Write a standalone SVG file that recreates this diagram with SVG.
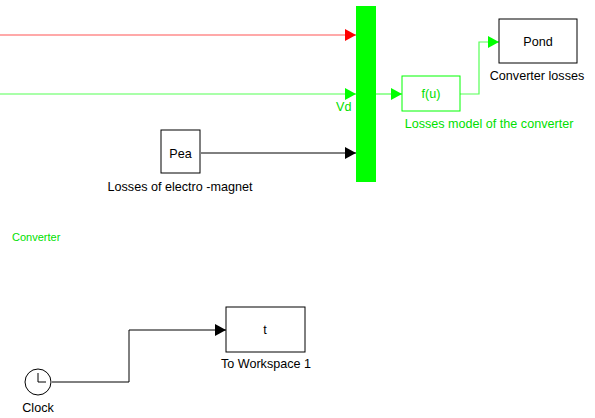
<svg xmlns="http://www.w3.org/2000/svg" width="595" height="418" viewBox="0 0 595 418">
<style>
text{font-family:"Liberation Sans",Arial,sans-serif;font-size:12.6px}
.g{fill:#00e000}
.blk{fill:none;stroke:#000;stroke-width:1}
.box{fill:#fff;stroke:#000;stroke-width:1}
</style>
<defs>
<marker id="ak" markerWidth="11" markerHeight="12" refX="11" refY="6" orient="auto" markerUnits="userSpaceOnUse"><path d="M0,0L11,6L0,12z" fill="#000"/></marker>
<marker id="ar" markerWidth="11" markerHeight="12" refX="11" refY="6" orient="auto" markerUnits="userSpaceOnUse"><path d="M0,0L11,6L0,12z" fill="#f00"/></marker>
<marker id="ag" markerWidth="11" markerHeight="12" refX="11" refY="6" orient="auto" markerUnits="userSpaceOnUse"><path d="M0,0L11,6L0,12z" fill="#0f0"/></marker>
</defs>
<rect width="595" height="418" fill="#fff"/>
<g id="connectors">
<path d="M0,35H356" stroke="#f55" stroke-width="1.2" fill="none" marker-end="url(#ar)"/>
<path d="M0,94H356" stroke="#5f5" stroke-width="1.2" fill="none" marker-end="url(#ag)"/>
<path d="M201,153H356" class="blk" marker-end="url(#ak)"/>
<path d="M376,94H402" stroke="#5f5" stroke-width="1.2" fill="none" marker-end="url(#ag)"/>
<path d="M460,94H479V42H499" stroke="#5f5" stroke-width="1.2" fill="none" marker-end="url(#ag)"/>
<path d="M52,382H129V330H226" class="blk" marker-end="url(#ak)"/>
</g>
<g id="mux"><rect x="356" y="6" width="20" height="176" fill="#0f0"/></g>
<text x="336" y="111" class="g">Vd</text>
<g id="fu">
<rect x="402" y="76" width="58" height="35" fill="#fff" stroke="#0f0"/>
<text x="431" y="98" text-anchor="middle" class="g">f(u)</text>
<text x="489" y="128" text-anchor="middle" class="g">Losses model of the converter</text>
</g>
<g id="pond">
<rect x="499" y="19" width="78" height="44" class="box"/>
<text x="538" y="46" text-anchor="middle">Pond</text>
<text x="537" y="80" text-anchor="middle">Converter losses</text>
</g>
<g id="pea">
<rect x="161" y="130" width="39" height="43" class="box"/>
<text x="180.5" y="158" text-anchor="middle">Pea</text>
<text x="180" y="191" text-anchor="middle">Losses of electro -magnet</text>
</g>
<text x="12" y="241" class="g" style="font-size:11px">Converter</text>
<g id="toworkspace">
<rect x="226" y="307" width="79" height="45" class="box"/>
<text x="265" y="334" text-anchor="middle">t</text>
<text x="266" y="368" text-anchor="middle">To Workspace 1</text>
</g>
<g id="clock">
<circle cx="38" cy="382" r="13" class="box"/>
<path d="M38,382V373M38,382H46" class="blk"/>
<text x="38" y="412" text-anchor="middle">Clock</text>
</g>
</svg>
